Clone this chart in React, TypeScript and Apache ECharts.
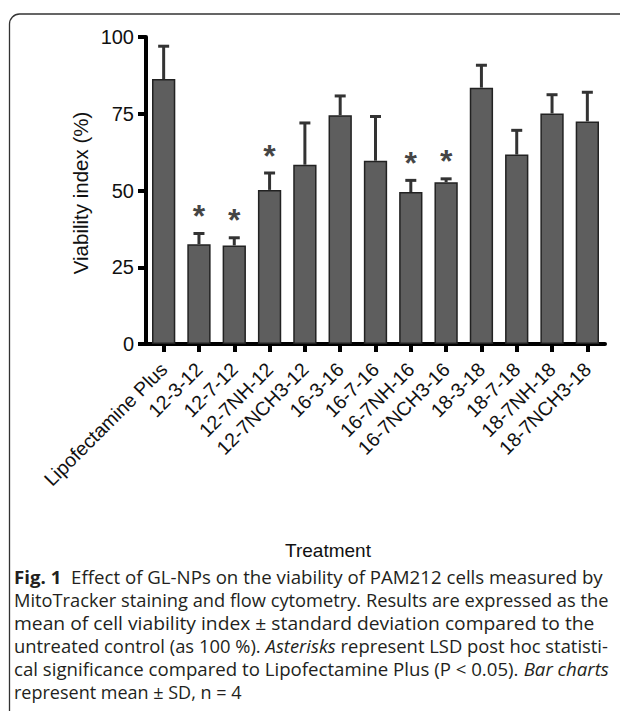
import React, { useEffect, useRef } from "react";
import * as echarts from "echarts";

const categories = [
  "Lipofectamine Plus",
  "12-3-12",
  "12-7-12",
  "12-7NH-12",
  "12-7NCH3-12",
  "16-3-16",
  "16-7-16",
  "16-7NH-16",
  "16-7NCH3-16",
  "18-3-18",
  "18-7-18",
  "18-7NH-18",
  "18-7NCH3-18",
];
const means = [86.3, 32.5, 32.1, 50.2, 58.4, 74.5, 59.7, 49.5, 52.7, 83.5, 61.7, 75.1, 72.5];
const sds = [10.7, 3.5, 2.5, 5.5, 13.6, 6.3, 14.4, 3.8, 1.1, 7.3, 7.9, 6.1, 9.5];
const significant = ["12-3-12", "12-7-12", "12-7NH-12", "16-7NH-16", "16-7NCH3-16"];
const yAxisTitle = "Viability index (%)";
const xAxisTitle = "Treatment";
const captionLines = [
  "{b|Fig. 1}  Effect of GL-NPs on the viability of PAM212 cells measured by",
  "MitoTracker staining and flow cytometry. Results are expressed as the",
  "mean of cell viability index \u00B1 standard deviation compared to the",
  "untreated control (as 100 %). {i|Asterisks} represent LSD post hoc statisti-",
  "cal significance compared to Lipofectamine Plus (P < 0.05). {i|Bar charts}",
  "represent mean \u00B1 SD, n = 4",
];
// right edge of each caption line in the reference (null = natural width)
const captionLineEnds = [603, 609, 595, 608, 609, null];

const AXIS_FONT = "'Liberation Sans', Arial, Helvetica, sans-serif";
const CAP_FONT = "'Open Sans', 'Noto Sans', sans-serif";
const CAP_SIZE = 18;
const CAP_LEFT = 14;

function measureLine(line: string): number {
  const canvas = document.createElement("canvas");
  const ctx = canvas.getContext("2d");
  if (!ctx) return 0;
  let total = 0;
  const re = /\{(b|i)\|([^}]*)\}/g;
  let last = 0;
  let m: RegExpExecArray | null;
  const segs: { t: string; s: string }[] = [];
  while ((m = re.exec(line)) !== null) {
    if (m.index > last) segs.push({ t: line.slice(last, m.index), s: "" });
    segs.push({ t: m[2], s: m[1] });
    last = m.index + m[0].length;
  }
  if (last < line.length) segs.push({ t: line.slice(last), s: "" });
  for (const seg of segs) {
    const style = seg.s === "i" ? "italic " : "";
    const weight = seg.s === "b" ? "bold " : "";
    ctx.font = `${style}${weight}${CAP_SIZE}px ${CAP_FONT}`;
    total += ctx.measureText(seg.t).width;
  }
  return total;
}

export default function App() {
  const ref = useRef<HTMLDivElement>(null);
  useEffect(() => {
    if (!ref.current) return;
    const chart = echarts.init(ref.current, null, { renderer: "svg" });
    const errData = means.map((m, i) => [i, m, m + sds[i]]);
    const starData = categories
      .map((c, i) => (significant.includes(c) ? [i, means[i] + sds[i]] : null))
      .filter((d) => d !== null);

    const capGraphics = captionLines.map((line, k) => {
      const end = captionLineEnds[k];
      const w = measureLine(line);
      let sx = 1;
      if (end !== null && w > 0) {
        sx = (end - CAP_LEFT) / w;
        if (sx > 1.12 || sx < 0.88) sx = 1;
      }
      return {
        type: "text",
        x: CAP_LEFT,
        y: 577 + k * 23,
        scaleX: sx,
        style: {
          text: line,
          fontFamily: CAP_FONT,
          fontSize: CAP_SIZE,
          fill: "#231f20",
          textVerticalAlign: "middle",
          rich: {
            b: { fontFamily: CAP_FONT, fontSize: CAP_SIZE, fontWeight: "bold", fill: "#231f20" },
            i: { fontFamily: CAP_FONT, fontSize: CAP_SIZE, fontStyle: "italic", fill: "#231f20" },
          },
        },
      };
    });

    chart.setOption({
      animation: false,
      backgroundColor: "#fff",
      grid: { left: 146, right: 15, top: 37, bottom: 367, outerBoundsMode: "none" },
      xAxis: {
        type: "category",
        data: categories,
        axisLine: { show: true, lineStyle: { color: "#000", width: 4 } },
        axisTick: { show: true, alignWithLabel: true, length: 8, lineStyle: { color: "#000", width: 4 } },
        axisLabel: {
          rotate: 45,
          margin: 22,
          fontSize: 19.5,
          fontFamily: AXIS_FONT,
          color: "#111",
          interval: 0,
        },
        splitLine: { show: false },
      },
      yAxis: {
        type: "value",
        min: 0,
        max: 100,
        interval: 25,
        axisLine: { show: true, lineStyle: { color: "#000", width: 4 } },
        axisTick: { show: true, length: 8, lineStyle: { color: "#000", width: 4 } },
        axisLabel: { margin: 12, fontSize: 20, fontFamily: AXIS_FONT, color: "#111" },
        splitLine: { show: false },
      },
      series: [
        {
          type: "bar",
          data: means,
          barWidth: "66%",
          itemStyle: { color: "#5e5e5e", borderColor: "#222", borderWidth: 1.5 },
        },
        {
          type: "custom",
          data: errData,
          encode: { x: 0, y: [1, 2] },
          z: 3,
          renderItem: (params: any, api: any) => {
            const x = api.value(0);
            const lo = api.coord([x, api.value(1)]);
            const hi = api.coord([x, api.value(2)]);
            const half = 5.5;
            const st = { stroke: "#333", lineWidth: 3 };
            return {
              type: "group",
              children: [
                { type: "line", shape: { x1: lo[0], y1: lo[1], x2: hi[0], y2: hi[1] }, style: st },
                { type: "line", shape: { x1: hi[0] - half, y1: hi[1], x2: hi[0] + half, y2: hi[1] }, style: st },
              ],
            };
          },
        },
        {
          type: "scatter",
          data: starData,
          symbol: "circle",
          symbolSize: 1,
          itemStyle: { color: "rgba(0,0,0,0)" },
          label: {
            show: true,
            formatter: "*",
            position: "top",
            distance: 1,
            fontSize: 32,
            fontWeight: "bold",
            fontFamily: AXIS_FONT,
            color: "#111",
          },
          z: 4,
        },
      ],
      graphic: [
        {
          type: "rect",
          shape: { x: 9.5, y: 14, width: 700, height: 800, r: 10 },
          style: { fill: "none", stroke: "#333", lineWidth: 1.3 },
          silent: true,
        },
        {
          type: "text",
          x: 80,
          y: 193,
          rotation: Math.PI / 2,
          style: {
            text: yAxisTitle,
            fontFamily: AXIS_FONT,
            fontSize: 20.5,
            fill: "#111",
            textAlign: "center",
            textVerticalAlign: "middle",
          },
        },
        {
          type: "text",
          x: 328,
          y: 550,
          style: {
            text: xAxisTitle,
            fontFamily: AXIS_FONT,
            fontSize: 19,
            fill: "#111",
            textAlign: "center",
            textVerticalAlign: "middle",
          },
        },
        ...capGraphics,
      ],
    });
    return () => chart.dispose();
  }, []);
  return (
    <div
      ref={ref}
      style={{ position: "fixed", left: 0, top: 0, width: 620, height: 711 }}
    />
  );
}
